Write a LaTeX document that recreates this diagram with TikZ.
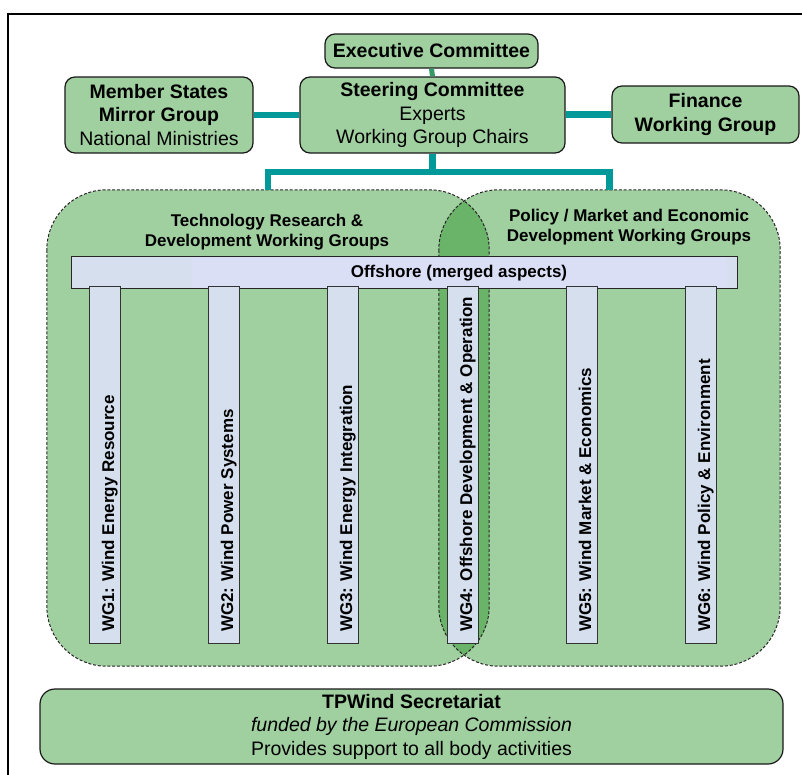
\documentclass[tikz,border=0pt]{standalone}
\usepackage{fontspec}
\setmainfont{Liberation Sans}
\definecolor{boxgreen}{RGB}{160,207,160}
\definecolor{lensgreen}{RGB}{106,180,106}
\definecolor{tealc}{RGB}{0,153,153}
\definecolor{execc}{RGB}{51,153,102}
\definecolor{wgblue}{RGB}{213,223,238}
\definecolor{offblue}{RGB}{219,223,246}
\begin{document}
\begin{tikzpicture}[x=1pt,y=-1pt,
  topbox/.style={draw=black!90, line width=1.2pt, fill=boxgreen, rounded corners=10pt,
    align=center, inner sep=0pt, font=\fontsize{19.5}{23.5}\selectfont},
  grpfill/.style={fill=boxgreen, rounded corners=60pt, inner sep=0pt, minimum height=476pt},
  grpborder/.style={draw=black!85, line width=1pt, dash pattern=on 3pt off 1.8pt, rounded corners=60pt},
  grptitle/.style={font=\bfseries\fontsize{17}{20.5}\selectfont, align=center, inner sep=0pt},
  tealline/.style={draw=tealc, line width=6.5pt},
  execline/.style={draw=execc, line width=5pt},
  wgbar/.style={draw=black!80, line width=1pt, fill=wgblue, inner sep=0pt, minimum width=31pt, minimum height=357pt},
  wgtext/.style={font=\bfseries\fontsize{17}{20}\selectfont, inner sep=0pt, rotate=90, anchor=base west},
  barlabel/.style={font=\bfseries\fontsize{17}{20}\selectfont, inner sep=0pt}
]
\useasboundingbox (0,0) rectangle (802,774);
\clip (0,0) rectangle (802,774);
\fill[white] (0,0) rectangle (802,774);
% outer frame
\draw[line width=2.8pt] (8,820) -- (8,14) -- (840,14);

% groups
\node[grpfill, minimum width=442pt] (tg) at (268,428) {};
\node[grpfill, minimum width=341pt] (pg) at (609.5,428) {};
\begin{scope}
  \clip[rounded corners=60pt] (tg.north west) rectangle (tg.south east);
  \fill[lensgreen, rounded corners=60pt] (pg.north west) rectangle (pg.south east);
\end{scope}
\draw[grpborder] (tg.north west) rectangle (tg.south east);
\draw[grpborder] (pg.north west) rectangle (pg.south east);

\node[grptitle] (tt) at (267,232) {Technology Research \&\\Development Working Groups};
\node[grptitle] (pt) at (629,227) {Policy / Market and Economic\\Development Working Groups};

% top boxes
\node[topbox, minimum width=213pt, minimum height=34pt] (ex) at (431.5,51) {\textbf{Executive Committee}};
\node[topbox, minimum width=265pt, minimum height=76pt] (sc) at (432.5,115) {\textbf{Steering Committee}\\Experts\\Working Group Chairs};
\node[topbox, minimum width=188pt, minimum height=76pt] (ms) at (159,115) {\textbf{Member States}\\\textbf{Mirror Group}\\National Ministries};
\node[topbox, minimum width=187pt, minimum height=57pt] (fin) at (705.5,114.5) {\textbf{Finance}\\\textbf{Working Group}};

% connectors
\coordinate (busy) at (0,172);
\coordinate (bus) at (sc.south |- busy);
\draw[execline] (ex.south) -- (sc.north);
\draw[tealline] (ms.east) -- (sc.west);
\draw[tealline] (fin.west) -- (fin.west -| sc.east);
\draw[tealline] (sc.south) -- (bus);
\draw[tealline] (tg.north) |- (bus) -| (pg.north);

% offshore bar
\node[fill=offblue, minimum width=665pt, minimum height=31pt, inner sep=0pt] (off) at (404.5,272.5) {};
\fill[wgblue] (off.north west) rectangle (off.south west -| 192,0);
\fill[wgblue] (off.north east) rectangle (off.south east -| 727,0);
\draw[black!85, line width=1pt] (off.north west) rectangle (off.south east);
\node[barlabel] (offl) at (459,273) {Offshore (merged aspects)};

% working group bars
\foreach \i/\x/\t in {1/104.5/{WG1: Wind Energy Resource},
                      2/223.5/{WG2: Wind Power Systems},
                      3/342.5/{WG3: Wind Energy Integration},
                      4/462.5/{WG4: Offshore Development \& Operation},
                      5/581.5/{WG5: Wind Market \& Economics},
                      6/700.5/{WG6: Wind Policy \& Environment}}{
  \node[wgbar] (wg\i) at (\x,464.5) {};
  \node[wgtext] (wgt\i) at (\x+9.5,632) {\t};
}

% secretariat
\node[topbox, rounded corners=15pt, minimum width=743pt, minimum height=75pt] (sec) at (411.5,726.5)
  {\textbf{TPWind Secretariat}\\\textit{funded by the European Commission}\\Provides support to all body activities};
\end{tikzpicture}
\end{document}
